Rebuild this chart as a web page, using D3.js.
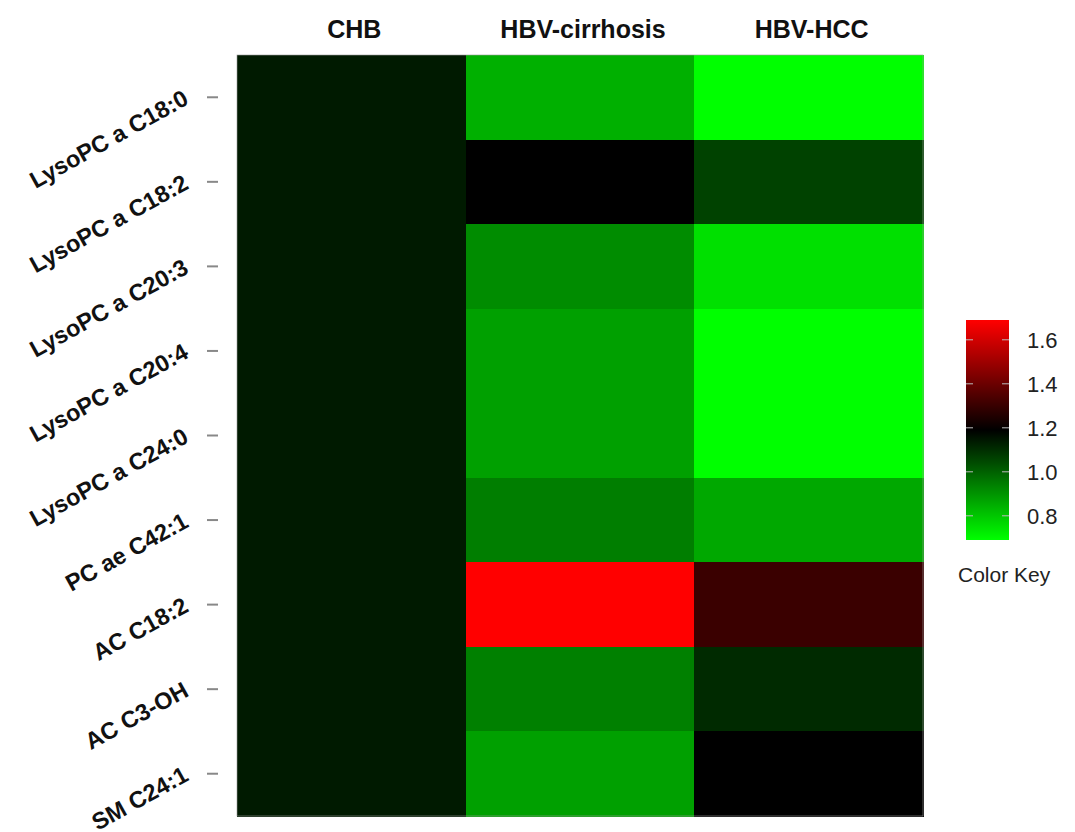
<!DOCTYPE html>
<meta charset="utf-8">
<script src="https://cdn.jsdelivr.net/npm/d3@7"></script>
<style>
body { margin: 0; background: #fff; }
text { font-family: "Liberation Sans", Arial, sans-serif; }
.head { font-weight: bold; font-size: 25px; fill: #111; }
.rowlab { font-weight: bold; font-size: 23.5px; fill: #111; }
.keylab { font-size: 22px; fill: #222; }
.cell { shape-rendering: crispEdges; }
</style>
<div id="heat"></div>
<script>

// data (fold change relative to CHB)
const metabolites = ["LysoPC a C18:0", "LysoPC a C18:2", "LysoPC a C20:3", "LysoPC a C20:4",
  "LysoPC a C24:0", "PC ae C42:1", "AC C18:2", "AC C3-OH", "SM C24:1"];
const groups = ["CHB", "HBV-cirrhosis", "HBV-HCC"];
const chbValues = [1.14, 1.14, 1.14, 1.14, 1.14, 1.14, 1.14, 1.14, 1.14];
const cirrhosisValues = [0.845, 1.19, 0.915, 0.876, 0.876, 0.943, 1.69, 0.939, 0.876];
const hccValues = [0.69, 1.06, 0.751, 0.69, 0.69, 0.861, 1.304, 1.108, 1.19];
const keyTicks = [0.8, 1.0, 1.2, 1.4, 1.6];

const width = 1075, height = 832;

const svg = d3.select("#heat").append("svg")
  .attr("width", width)
  .attr("height", height);

// green - black - red ramp
const color = d3.scaleLinear()
  .domain([0.69, 1.19, 1.69])
  .range(["#00ff00", "#000000", "#ff0000"])
  .clamp(true);

const x = d3.scaleBand().domain(groups).range([237, 923]);
const y = d3.scaleBand().domain(metabolites).range([55, 816]);

// build cells
const cells = [];
const cols = [chbValues, cirrhosisValues, hccValues];
metabolites.forEach(function(m, i) {
  groups.forEach(function(g, j) {
    cells.push({ row: m, col: g, value: cols[j][i] });
  });
});

svg.append("g").selectAll("rect")
  .data(cells)
  .enter().append("rect")
  .attr("class", "cell")
  .attr("x", d => x(d.col))
  .attr("y", d => y(d.row))
  .attr("width", x.bandwidth() + 1)
  .attr("height", y.bandwidth() + 1)
  .attr("fill", d => color(d.value));

// thin frame like the scan
svg.append("rect")
  .attr("x", 237).attr("y", 55)
  .attr("width", 686).attr("height", 761)
  .attr("fill", "none")
  .attr("stroke", "#999")
  .attr("stroke-width", 0.6);

// column headers
svg.append("g").selectAll("text")
  .data(groups)
  .enter().append("text")
  .attr("class", "head")
  .attr("x", d => x(d) + x.bandwidth() / 2 + 3)
  .attr("y", 38)
  .attr("text-anchor", "middle")
  .text(d => d);

// row ticks
svg.append("g").selectAll("line")
  .data(metabolites)
  .enter().append("line")
  .attr("x1", 207).attr("x2", 218)
  .attr("y1", d => y(d) + y.bandwidth() / 2)
  .attr("y2", d => y(d) + y.bandwidth() / 2)
  .attr("stroke", "#888")
  .attr("stroke-width", 2);

// rotated row labels
svg.append("g").selectAll("text")
  .data(metabolites)
  .enter().append("text")
  .attr("class", "rowlab")
  .attr("text-anchor", "end")
  .attr("transform", d => "translate(190," + (y(d) + y.bandwidth() / 2 + 6) + ") rotate(-29)")
  .text(d => d);

// colour key
const keyX = 966, keyW = 43;
const ky = d3.scaleLinear().domain([0.69, 1.69]).range([540, 320]);

const grad = svg.append("defs").append("linearGradient")
  .attr("id", "keygrad")
  .attr("x1", 0).attr("y1", 1).attr("x2", 0).attr("y2", 0);
d3.range(0, 1.0001, 0.05).forEach(function(t) {
  const v = 0.69 + t * 1.0;
  grad.append("stop").attr("offset", t).attr("stop-color", color(v));
});

svg.append("rect")
  .attr("x", keyX).attr("y", ky(1.69))
  .attr("width", keyW).attr("height", ky(0.69) - ky(1.69))
  .attr("fill", "url(#keygrad)");

const kt = svg.append("g").selectAll("g")
  .data(keyTicks)
  .enter().append("g");
kt.append("line")
  .attr("x1", keyX).attr("x2", keyX + 7)
  .attr("y1", d => ky(d)).attr("y2", d => ky(d))
  .attr("stroke", "#bbb").attr("stroke-width", 1);
kt.append("line")
  .attr("x1", keyX + keyW - 7).attr("x2", keyX + keyW)
  .attr("y1", d => ky(d)).attr("y2", d => ky(d))
  .attr("stroke", "#bbb").attr("stroke-width", 1);
kt.append("text")
  .attr("class", "keylab")
  .attr("x", 1027)
  .attr("y", d => ky(d) + 8)
  .text(d => d3.format(".1f")(d));

svg.append("text")
  .attr("class", "keylab")
  .attr("x", 958)
  .attr("y", 582)
  .style("font-size", "21px")
  .text("Color Key");

</script>
